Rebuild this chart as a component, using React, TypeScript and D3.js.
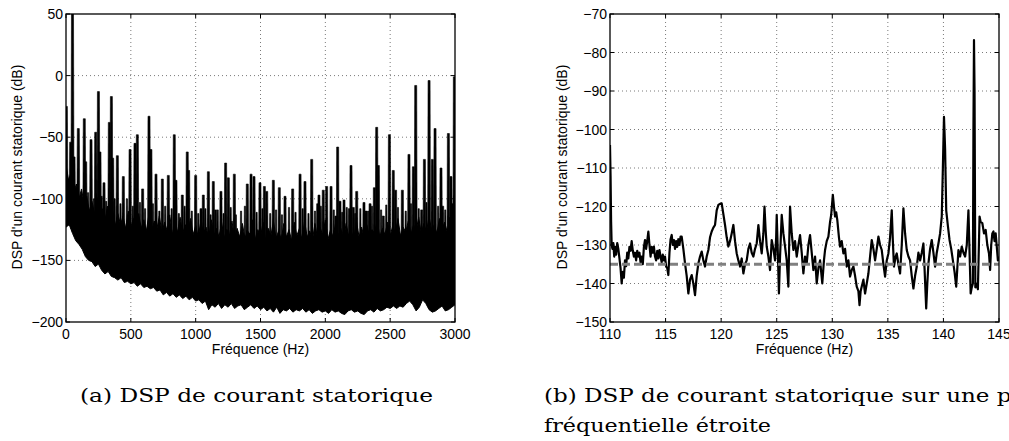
import React from 'react';
import * as d3 from 'd3';

// ---------- tick labels ----------
const leftXTicks = [0, 500, 1000, 1500, 2000, 2500, 3000];
const leftYTicks = [50, 0, -50, -100, -150, -200];
const rightXTicks = [110, 115, 120, 125, 130, 135, 140, 145];
const rightYTicks = [-70, -80, -90, -100, -110, -120, -130, -140, -150];

// ---------- left plot: full spectrum (0-3000 Hz) ----------
// lower edge of the noise mass, read every 25 Hz
const floorStepHz = 25;
const floorDb = [
  -123, -121, -128, -134, -137, -141, -147, -150, -151, -155, -153, -158, -161, -159, -163, -164, -166, -164, -168, -167,
  -169, -168, -171, -169, -172, -171, -173, -172, -175, -174, -178, -176, -179, -177, -180, -178, -181, -179, -182, -180,
  -183, -182, -185, -183, -190, -186, -188, -185, -189, -186, -188, -185, -189, -187, -186, -190, -188, -186, -189, -187,
  -190, -188, -191, -189, -192, -188, -193, -190, -191, -189, -192, -190, -191, -189, -192, -190, -193, -191, -190, -192,
  -191, -193, -190, -192, -191, -193, -194, -191, -190, -192, -191, -193, -194, -191, -190, -192, -189, -191, -190, -188,
  -189, -187, -189, -187, -188, -185, -183, -186, -191, -188, -182, -185, -190, -192, -191, -189, -187, -191, -190, -188,
  -186,
];

// upper edge of the solid noise mass, read every 20 Hz
const bandStepHz = 20;
const bandTopDb = [
  -72, -85, -78, -95, -88, -100, -92, -105, -98, -110, -102, -112, -104, -115, -108,
  -118, -106, -120, -110, -122, -112, -121, -114, -124, -110, -123, -116, -125, -112, -124,
  -117, -126, -112, -127, -118, -125, -114, -128, -119, -126, -113, -129, -120, -127, -115,
  -128, -121, -130, -116, -129, -122, -131, -118, -128, -123, -132, -117, -130, -124, -131,
  -119, -132, -125, -130, -118, -133, -124, -131, -120, -132, -126, -129, -117, -133, -125,
  -131, -119, -134, -124, -130, -118, -132, -126, -133, -120, -131, -125, -134, -119, -130,
  -124, -133, -118, -131, -126, -134, -120, -132, -123, -130, -117, -133, -125, -131, -119,
  -132, -124, -134, -120, -130, -126, -133, -118, -131, -123, -132, -121, -130, -125, -128,
  -117, -131, -124, -129, -119, -130, -122, -128, -116, -130, -123, -127, -118, -129, -121,
  -126, -115, -128, -120, -127, -114, -126, -121, -128, -116, -125, -119, -127, -115, -124,
  -118,
];

// tall harmonic lines [Hz, dB]
const majorPeaks: [number, number][] = [
  [3, -25], [36, -54], [50, 60], [62, -66], [95, -43], [141, -35], [152, -70], [193, -52], [229, -46], [250, -13],
  [262, -62], [293, -87], [334, -38], [350, -17], [360, -67], [396, -65], [442, -82], [494, -60], [532, -55], [550, -48],
  [591, -92], [640, -33], [655, -60], [694, -80], [743, -84], [789, -81], [835, -48], [848, -85], [897, -97], [935, -62],
  [946, -77], [1000, -81], [1041, -108], [1059, -97], [1098, -78], [1136, -86], [1154, -109], [1195, -94], [1231, -71], [1252, -83],
  [1298, -80], [1398, -88], [1427, -80], [1450, -82], [1496, -87], [1530, -90], [1548, -94], [1599, -85], [1645, -91], [1689, -98],
  [1748, -92], [1805, -80], [1843, -86], [1895, -68], [1941, -104], [1951, -97], [1984, -93], [2010, -90], [2044, -90], [2082, -114],
  [2095, -58], [2113, -102], [2144, -101], [2185, -108], [2198, -73], [2216, -107], [2242, -94], [2298, -103], [2314, -110], [2345, -104],
  [2378, -91], [2396, -42], [2409, -73], [2447, -114], [2494, -48], [2524, -77], [2542, -93], [2594, -93], [2645, -64], [2679, -74],
  [2697, -8], [2743, -109], [2764, -68], [2800, -4], [2825, -68], [2846, -43], [2892, -75], [2905, -106], [2949, -47], [2969, -82],
  [2995, -1],
];

// smaller lines [Hz, dB]
const mediumPeaks: [number, number][] = [
  [75, -92], [115, -98], [170, -95], [215, -100], [275, -98], [310, -102], [375, -100], [420, -104], [470, -100], [515, -106],
  [570, -103], [610, -108], [670, -104], [720, -110], [765, -106], [815, -108], [870, -112], [915, -106], [970, -110], [1020, -112],
  [1075, -108], [1115, -113], [1170, -109], [1215, -112], [1270, -107], [1310, -113], [1350, -110], [1380, -106], [1470, -111], [1515, -108],
  [1575, -112], [1620, -109], [1665, -113], [1720, -107], [1770, -111], [1825, -108], [1870, -112], [1920, -110], [1965, -106], [2065, -109],
  [2130, -111], [2165, -107], [2230, -112], [2270, -108], [2330, -110], [2360, -106], [2430, -109], [2470, -105], [2560, -107], [2620, -110],
  [2660, -104], [2720, -108], [2780, -103], [2870, -106], [2925, -109], [2980, -104],
];

// ---------- right plot: 110-145 Hz [Hz, dB] ----------
const zoomSpectrum: [number, number][] = [
  [110.0, -104], [110.05, -112], [110.1, -124], [110.15, -130], [110.22, -131], [110.3, -129.5], [110.38, -133], [110.45, -130.5],
  [110.55, -132.5], [110.65, -129.5], [110.75, -131], [110.85, -133.5], [110.95, -136], [111.05, -140], [111.15, -137], [111.25, -138.5],
  [111.35, -134], [111.45, -135.5], [111.55, -132], [111.65, -133.5], [111.75, -130.5], [111.85, -131.5], [111.95, -129], [112.05, -131.5],
  [112.15, -133], [112.25, -132], [112.35, -134], [112.45, -131.5], [112.55, -133], [112.65, -132], [112.75, -134.5], [112.85, -133],
  [112.95, -135], [113.05, -130.5], [113.15, -128.7], [113.25, -131], [113.35, -129], [113.45, -126.5], [113.55, -130], [113.65, -133],
  [113.75, -130.5], [113.85, -132], [113.95, -130.4], [114.05, -133], [114.15, -134], [114.25, -131.5], [114.35, -133.5], [114.45, -131.3],
  [114.55, -133], [114.65, -134.5], [114.75, -132.5], [114.85, -134], [114.95, -133], [115.05, -135.6], [115.15, -136], [115.25, -137.8],
  [115.35, -132], [115.45, -128.5], [115.55, -127.4], [115.65, -130], [115.75, -128.7], [115.85, -131], [115.95, -129], [116.05, -130.5],
  [116.15, -128.5], [116.25, -130], [116.35, -127.8], [116.45, -127.8], [116.6, -131], [116.75, -134.8], [116.9, -138], [117.05, -142.6],
  [117.2, -139], [117.35, -137.8], [117.5, -140], [117.65, -143], [117.8, -138], [117.95, -134.8], [118.1, -133], [118.25, -131.7],
  [118.4, -134], [118.55, -135.6], [118.7, -133], [118.85, -131.3], [119.0, -128], [119.15, -126.5], [119.3, -125.5], [119.45, -124.8],
  [119.6, -121], [119.75, -119.6], [119.9, -119.3], [120.05, -119.2], [120.2, -122], [120.35, -124.8], [120.5, -128], [120.65, -130.4],
  [120.8, -129], [120.95, -127], [121.1, -124.8], [121.25, -129], [121.4, -132.2], [121.55, -134], [121.7, -135.6], [121.85, -133.5],
  [122.0, -137.4], [122.15, -135], [122.3, -134], [122.45, -131], [122.6, -129.6], [122.75, -132], [122.9, -133], [123.05, -131],
  [123.2, -129.6], [123.35, -124.8], [123.5, -129], [123.65, -132.2], [123.8, -127], [123.9, -120], [124.0, -126], [124.1, -130.4],
  [124.25, -133], [124.4, -136.5], [124.55, -128.7], [124.7, -131], [124.85, -134], [124.95, -128], [125.0, -122.2], [125.1, -132],
  [125.2, -142.6], [125.3, -133], [125.45, -122.2], [125.6, -127], [125.75, -130.4], [125.9, -134], [126.05, -140.8], [126.12, -130],
  [126.2, -120], [126.35, -127], [126.5, -131.3], [126.65, -129], [126.8, -133], [126.95, -130], [127.1, -127.4], [127.25, -132],
  [127.4, -137.4], [127.55, -133], [127.7, -134.8], [127.85, -130], [128.0, -127.4], [128.15, -132], [128.3, -136.5], [128.45, -133],
  [128.6, -140], [128.75, -136], [128.9, -134], [129.0, -137], [129.1, -140], [129.25, -134], [129.35, -131.3], [129.5, -129],
  [129.65, -127.8], [129.8, -124], [129.9, -122.2], [130.05, -117], [130.15, -120], [130.25, -122.6], [130.35, -121.5], [130.45, -123.5],
  [130.6, -128], [130.7, -130.4], [130.85, -129], [131.0, -132.2], [131.15, -131], [131.3, -135.6], [131.45, -134], [131.6, -138.2],
  [131.75, -136.5], [131.9, -135.6], [132.05, -138], [132.2, -140.8], [132.35, -142], [132.45, -145.6], [132.55, -142], [132.65, -140.8],
  [132.8, -139], [132.95, -142.6], [133.1, -140], [133.25, -137.4], [133.4, -133], [133.55, -128.7], [133.7, -131], [133.85, -134],
  [134.0, -131], [134.15, -127.8], [134.3, -130], [134.45, -131.3], [134.6, -135], [134.75, -138.2], [134.9, -134], [135.05, -132.2],
  [135.2, -128], [135.35, -121], [135.45, -129], [135.55, -135.6], [135.7, -133], [135.8, -132.2], [135.95, -135], [136.1, -137.4],
  [136.25, -130], [136.4, -120.5], [136.55, -127], [136.7, -131.3], [136.85, -133], [137.0, -134], [137.15, -138], [137.3, -141.3],
  [137.45, -138], [137.6, -135.6], [137.75, -132], [137.9, -134], [138.05, -132], [138.2, -129.6], [138.3, -136], [138.45, -146.5],
  [138.55, -140], [138.65, -134.8], [138.8, -131], [138.95, -128.7], [139.1, -132], [139.25, -135.6], [139.4, -132], [139.55, -129.6],
  [139.7, -127], [139.85, -122.6], [139.95, -110], [140.05, -96.7], [140.15, -105], [140.25, -121], [140.4, -125], [140.55, -128.7],
  [140.7, -131], [140.85, -134], [141.0, -137], [141.15, -140.8], [141.25, -136], [141.35, -131.3], [141.5, -133], [141.65, -130.4],
  [141.8, -132], [141.95, -133], [142.1, -130], [142.25, -121], [142.35, -132], [142.45, -142.6], [142.55, -141], [142.65, -140],
  [142.7, -100], [142.75, -76.8], [142.8, -90], [142.87, -141], [142.95, -140], [143.1, -141.5], [143.25, -122.6], [143.35, -124],
  [143.5, -124.3], [143.65, -127], [143.8, -126.1], [143.95, -130], [144.1, -132.2], [144.2, -136.5], [144.3, -130], [144.4, -127],
  [144.5, -126.5], [144.6, -129], [144.7, -127], [144.8, -130.4], [144.9, -134], [145.0, -133],
];
const zoomNoiseLevel = -135;

// ---------- geometry ----------
const W = 1009;
const H = 441;
const L = { x0: 66, x1: 455, y0: 14, y1: 322 };
const R = { x0: 610, x1: 999, y0: 14, y1: 322 };
const FONT = "'Liberation Sans', Arial, Helvetica, sans-serif";
const SERIF = "'DejaVu Serif', 'Liberation Serif', serif";

const fmt = (v: number) => (v < 0 ? '\u2212' + Math.abs(v) : String(v));

function Frame({ box, xs, ys, xTicks, yTicks }: any) {
  const tl = 4;
  return (
    <g>
      {xTicks.map((t: number) => (
        <g key={'xt' + t}>
          <line x1={xs(t)} x2={xs(t)} y1={box.y1} y2={box.y1 - tl} stroke="#000" strokeWidth={1} />
          <line x1={xs(t)} x2={xs(t)} y1={box.y0} y2={box.y0 + tl} stroke="#000" strokeWidth={1} />
          <text x={xs(t)} y={box.y1 + 17} textAnchor="middle" fontFamily={FONT} fontSize={14}>{fmt(t)}</text>
        </g>
      ))}
      {yTicks.map((t: number) => (
        <g key={'yt' + t}>
          <line x1={box.x0} x2={box.x0 + tl} y1={ys(t)} y2={ys(t)} stroke="#000" strokeWidth={1} />
          <line x1={box.x1} x2={box.x1 - tl} y1={ys(t)} y2={ys(t)} stroke="#000" strokeWidth={1} />
          <text x={box.x0 - 3} y={ys(t) + 5} textAnchor="end" fontFamily={FONT} fontSize={14}>{fmt(t)}</text>
        </g>
      ))}
      <rect x={box.x0} y={box.y0} width={box.x1 - box.x0} height={box.y1 - box.y0} fill="none" stroke="#000" strokeWidth={1.3} />
    </g>
  );
}

function Grid({ box, xs, ys, xTicks, yTicks }: any) {
  return (
    <g stroke="#7a7a7a" strokeWidth={1} strokeDasharray="1 3">
      {xTicks.slice(1, -1).map((t: number) => (
        <line key={'gx' + t} x1={xs(t)} x2={xs(t)} y1={box.y0} y2={box.y1} />
      ))}
      {yTicks.slice(1, -1).map((t: number) => (
        <line key={'gy' + t} x1={box.x0} x2={box.x1} y1={ys(t)} y2={ys(t)} />
      ))}
    </g>
  );
}

export default function App() {
  const xL = d3.scaleLinear().domain([0, 3000]).range([L.x0, L.x1]);
  const yL = d3.scaleLinear().domain([-200, 50]).range([L.y1, L.y0]);
  const xR = d3.scaleLinear().domain([110, 145]).range([R.x0, R.x1]);
  const yR = d3.scaleLinear().domain([-150, -70]).range([R.y1, R.y0]);

  const floorFreq = floorDb.map((_, i) => i * floorStepHz);
  const floorAt = d3.scaleLinear().domain(floorFreq).range(floorDb);
  const bandFreq = bandTopDb.map((_, i) => i * bandStepHz);
  const bandAt = d3.scaleLinear().domain(bandFreq).range(bandTopDb);

  const massPts: [number, number][] = [
    ...bandFreq.map((f, i) => [xL(f), yL(bandTopDb[i])] as [number, number]),
    ...floorFreq
      .map((f, i) => [xL(f), yL(floorDb[i])] as [number, number])
      .reverse(),
  ];
  const massPath = d3.line()(massPts) + 'Z';

  const spikePath = (f: number, db: number, half: number) => {
    const x = xL(f);
    const yb = yL(Math.min(floorAt(f) + 4, bandAt(f) - 2));
    const yp = yL(db);
    return `M${x - half - 0.6},${yb}L${x - half},${yp}L${x + half},${yp}L${x + half + 0.6},${yb}Z`;
  };

  const zoomLine = d3
    .line<[number, number]>()
    .x((d) => xR(d[0]))
    .y((d) => yR(d[1]))(zoomSpectrum) as string;

  return (
    <svg width={W} height={H} style={{ position: 'absolute', left: 0, top: 0, background: '#fff' }}>
      <defs>
        <clipPath id="clipL">
          <rect x={L.x0} y={L.y0} width={L.x1 - L.x0} height={L.y1 - L.y0} />
        </clipPath>
        <clipPath id="clipR">
          <rect x={R.x0} y={R.y0} width={R.x1 - R.x0} height={R.y1 - R.y0} />
        </clipPath>
      </defs>
      <rect x={0} y={0} width={W} height={H} fill="#fff" />

      {/* left plot */}
      <Grid box={L} xs={xL} ys={yL} xTicks={leftXTicks} yTicks={leftYTicks} />
      <g clipPath="url(#clipL)">
        <path d={massPath} fill="#000" stroke="#000" strokeWidth={1} strokeLinejoin="round" />
        {mediumPeaks.map(([f, db]) => (
          <path key={'m' + f} d={spikePath(f, db, 0.6)} fill="#000" stroke="#000" strokeWidth={0.6} />
        ))}
        {majorPeaks.map(([f, db]) => (
          <path key={'p' + f} d={spikePath(f, db, 1)} fill="#000" stroke="#000" strokeWidth={0.6} />
        ))}
      </g>
      <Frame box={L} xs={xL} ys={yL} xTicks={leftXTicks} yTicks={leftYTicks} />
      <text x={(L.x0 + L.x1) / 2} y={354} textAnchor="middle" fontFamily={FONT} fontSize={14}>Fréquence (Hz)</text>
      <text transform={`translate(22,167) rotate(-90)`} textAnchor="middle" fontFamily={FONT} fontSize={14}>DSP d'un courant statorique (dB)</text>

      {/* right plot */}
      <Grid box={R} xs={xR} ys={yR} xTicks={rightXTicks} yTicks={rightYTicks} />
      <g clipPath="url(#clipR)">
        <path d={zoomLine} fill="none" stroke="#000" strokeWidth={2.2} strokeLinejoin="round" />
        <line x1={xR(110)} x2={xR(145)} y1={yR(zoomNoiseLevel)} y2={yR(zoomNoiseLevel)} stroke="#808080" strokeWidth={3} strokeDasharray="8 4" />
      </g>
      <Frame box={R} xs={xR} ys={yR} xTicks={rightXTicks} yTicks={rightYTicks} />
      <text x={(R.x0 + R.x1) / 2} y={354} textAnchor="middle" fontFamily={FONT} fontSize={14}>Fréquence (Hz)</text>
      <text transform={`translate(567,167) rotate(-90)`} textAnchor="middle" fontFamily={FONT} fontSize={14}>DSP d'un courant statorique (dB)</text>

      {/* captions */}
      <text x={80} y={402} fontFamily={SERIF} fontSize={19} textLength={353} lengthAdjust="spacingAndGlyphs">(a) DSP de courant statorique</text>
      <text x={544} y={402} fontFamily={SERIF} fontSize={19} textLength={517} lengthAdjust="spacingAndGlyphs">(b) DSP de courant statorique sur une plage</text>
      <text x={544} y={432} fontFamily={SERIF} fontSize={19} textLength={227} lengthAdjust="spacingAndGlyphs">fréquentielle étroite</text>
    </svg>
  );
}
